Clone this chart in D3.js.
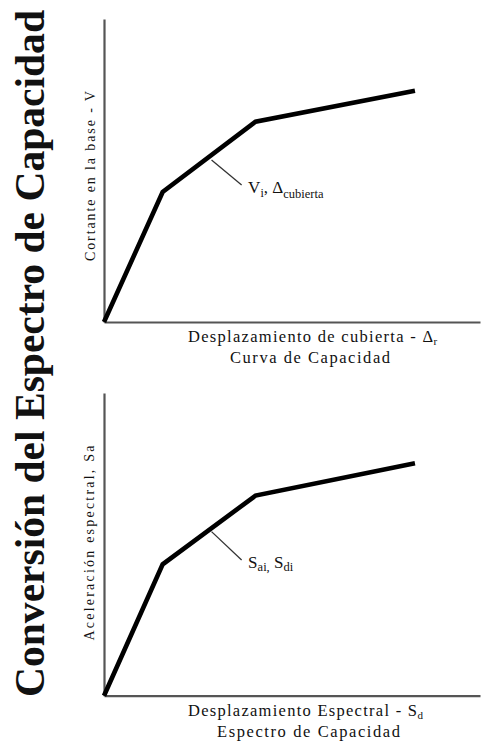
<!DOCTYPE html>
<html>
<head>
<meta charset="utf-8">
<script src="https://cdn.jsdelivr.net/npm/d3@7/dist/d3.min.js"></script>
<style>
  html, body { margin: 0; padding: 0; background: #fff; }
  svg { display: block; }
</style>
</head>
<body>
<svg id="chart" width="482" height="745"></svg>
<script>
// Bilinear capacity curve (base shear vs. roof displacement), relative units
const curveDisp = [0, 15.6, 40.3, 82.7];
const curveShear = [0, 42.9, 66.1, 76.3];

// Capacity spectrum (spectral acceleration vs. spectral displacement), relative units
const spectrumSd = [0, 15.6, 40.3, 82.7];
const spectrumSa = [0, 43.4, 66.1, 76.8];

// Annotation leader: point on the curve and label end
const leaderCurve = [[28.6, 53.5], [36.6, 45.2]];
const leaderSpectrum = [[28.6, 54.2], [36.6, 44.8]];

const title = "Conversión del Espectro de Capacidad";

const SERIF = '"Liberation Serif"';

const svg = d3.select("#chart");

function txt(parent) {
  return parent.append("text").style("font-family", SERIF).attr("fill", "#111");
}

// Vertical title along the left edge
txt(svg)
  .attr("transform", "translate(44,353.5) rotate(-90)")
  .attr("text-anchor", "middle")
  .attr("font-size", 41.5)
  .style("font-weight", "bold")
  .attr("textLength", 687)
  .attr("lengthAdjust", "spacingAndGlyphs")
  .text(title);

function panel(opts) {
  const x = d3.scaleLinear().domain([0, 100]).range([104, 480]);
  const y = d3.scaleLinear().domain([0, 100]).range([opts.bottom, opts.top]);
  const g = svg.append("g");

  // Axes: bare lines without ticks
  const xAxis = d3.axisBottom(x).tickValues([]).tickSizeOuter(0);
  const yAxis = d3.axisLeft(y).tickValues([]).tickSizeOuter(0);
  g.append("g").attr("transform", `translate(0,${opts.bottom})`).call(xAxis)
    .select(".domain").attr("stroke", "#555").attr("stroke-width", 2.2);
  g.append("g").attr("transform", `translate(104,0)`).call(yAxis)
    .select(".domain").attr("stroke", "#555").attr("stroke-width", 2.2);

  // Curve
  const pts = opts.xs.map((v, i) => [v, opts.ys[i]]);
  const line = d3.line().x(d => x(d[0])).y(d => y(d[1]));
  g.append("path")
    .datum(pts)
    .attr("d", line)
    .attr("fill", "none")
    .attr("stroke", "#000")
    .attr("stroke-width", 4.6)
    .attr("stroke-linejoin", "miter")
    .attr("stroke-linecap", "butt");

  // Leader line and label
  g.append("path")
    .datum(opts.leader)
    .attr("d", line)
    .attr("fill", "none")
    .attr("stroke", "#333")
    .attr("stroke-width", 1.3);
  const end = opts.leader[1];
  const lbl = txt(g)
    .attr("x", x(end[0]) + 6.5)
    .attr("y", y(end[1]) + 8)
    .attr("font-size", 17);
  opts.label(lbl);

  // Y axis label
  txt(g)
    .attr("transform", `translate(${opts.yLabelX},${opts.yLabelMid}) rotate(-90)`)
    .attr("text-anchor", "middle")
    .attr("font-size", 14)
    .attr("textLength", opts.yLabelLen)
    .attr("lengthAdjust", "spacing")
    .text(opts.yLabel);

  // X axis label, two lines, the first one with a subscript
  txt(g)
    .attr("x", 188).attr("y", opts.bottom + 20)
    .attr("font-size", 16.5)
    .attr("textLength", opts.xLabelLen)
    .attr("lengthAdjust", "spacing")
    .text(opts.xLabel);
  txt(g)
    .attr("x", 188 + opts.xLabelLen + 0.5).attr("y", opts.bottom + 23)
    .attr("font-size", 11)
    .text(opts.xLabelSub);
  txt(g)
    .attr("x", opts.xLabel2X).attr("y", opts.bottom + 41)
    .attr("font-size", 16.5)
    .attr("textLength", opts.xLabel2Len)
    .attr("lengthAdjust", "spacing")
    .text(opts.xLabel2);
}

panel({
  top: 19, bottom: 322,
  xs: curveDisp, ys: curveShear,
  leader: leaderCurve,
  label: t => {
    t.append("tspan").text("V");
    t.append("tspan").attr("font-size", 12).attr("dy", 4).text("i");
    t.append("tspan").attr("dy", -4).text(", Δ");
    t.append("tspan").attr("font-size", 12.5).attr("dy", 5).text("cubierta");
  },
  yLabel: "Cortante en la base - V", yLabelX: 95, yLabelMid: 176, yLabelLen: 170,
  xLabel: "Desplazamiento de cubierta - Δ", xLabelLen: 245, xLabelSub: "r",
  xLabel2: "Curva de Capacidad", xLabel2X: 230, xLabel2Len: 160
});

panel({
  top: 393, bottom: 695.7,
  xs: spectrumSd, ys: spectrumSa,
  leader: leaderSpectrum,
  label: t => {
    t.append("tspan").text("S");
    t.append("tspan").attr("font-size", 12.5).attr("dy", 3).text("ai,");
    t.append("tspan").attr("dy", -3).text(" S");
    t.append("tspan").attr("font-size", 12.5).attr("dy", 3).text("di");
  },
  yLabel: "Aceleración espectral, Sa", yLabelX: 94, yLabelMid: 543, yLabelLen: 195,
  xLabel: "Desplazamiento Espectral - S", xLabelLen: 229, xLabelSub: "d",
  xLabel2: "Espectro de Capacidad", xLabel2X: 217, xLabel2Len: 183
});
</script>
</body>
</html>
